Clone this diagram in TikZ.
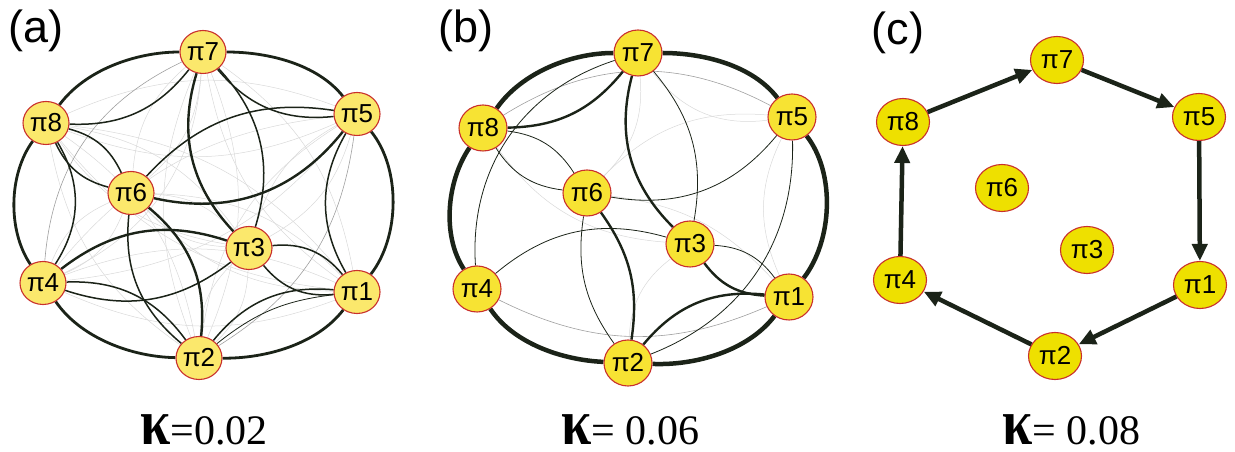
\documentclass[tikz,border=0pt]{standalone}
\usepackage{fontspec}
\setmainfont{Liberation Serif}
\newfontfamily\labelfont{Liberation Sans}
\usetikzlibrary{shapes.geometric,arrows.meta,backgrounds}

\definecolor{fillA}{HTML}{FBE86C}
\definecolor{fillB}{HTML}{F7E333}
\definecolor{fillC}{HTML}{EEE000}
\definecolor{rimred}{HTML}{C9302C}
\definecolor{linkdark}{HTML}{1B2318}

\newcommand{\kap}{{\bfseries\scalebox{1.3}[1.55]{κ}}}

\begin{document}
\begin{tikzpicture}[
  x=1pt, y=1pt,
  state/.style={ellipse, draw=rimred, line width=1.1pt, inner sep=0pt, font=\labelfont\fontsize{26}{26}\selectfont},
  stateA/.style={state, fill=fillA, minimum width=46pt, minimum height=43pt},
  stateB/.style={state, fill=fillB, minimum width=48pt, minimum height=46pt},
  stateC/.style={state, fill=fillC, minimum width=53pt, minimum height=47pt},
  panel/.style={font=\labelfont\fontsize{45}{45}\selectfont, inner sep=0pt},
  coupling/.style={font=\fontsize{42}{42}\selectfont, inner sep=0pt, anchor=base},
  rim/.style={draw=linkdark, line width=#1, looseness=0.85},
  wT/.style={draw=linkdark, line width=2.4pt},
  wM/.style={draw=linkdark, line width=1.5pt},
  wS/.style={draw=linkdark, line width=0.8pt},
  wG/.style={draw=gray!75, line width=0.6pt},
  wL/.style={draw=gray!30, line width=0.5pt},
  flow/.style={draw=linkdark, line width=4.5pt, -{Triangle[length=17pt,width=15pt]}},
]
  \useasboundingbox (0,0) rectangle (1235,452);

  % Panel (a)
  \node[panel] (lbla) at (36,421) {(a)};
  \node[stateA] (a7) at (203,400) {π7};
  \node[stateA] (a5) at (357,338) {π5};
  \node[stateA] (a8) at (46,329) {π8};
  \node[stateA] (a6) at (131,259) {π6};
  \node[stateA] (a3) at (249,204) {π3};
  \node[stateA] (a4) at (43,169) {π4};
  \node[stateA] (a1) at (357,160) {π1};
  \node[stateA] (a2) at (199,94) {π2};
  \node[coupling] (ka) at (204,7) {\kap=0.02};

  \begin{scope}[on background layer]
    \foreach \i/\j in {1/4,1/6,1/7,1/8,2/3,2/7,2/8,3/5,3/6,3/8,4/5,4/6,5/8,6/7}
      {\draw[wL] (a\i) to[bend left=22] (a\j);
       \draw[wL] (a\i) to[bend right=22] (a\j);}
    \foreach \i/\j/\b in {2/5/25,7/4/30}
      \draw[wL] (a\i) to[bend left=\b] (a\j);
    \foreach \i/\j/\b in {2/5/-25,7/4/-30}
      \draw[wG] (a\i) to[bend left=\b] (a\j);
    \foreach \i/\j/\b in {1/2/-16}
      \draw[wS] (a\i) to[bend left=\b] (a\j);
    \foreach \i/\j/\b in {7/5/-28,5/1/-30,1/2/-28,2/4/-28,4/8/-32,8/7/-27,7/3/30,6/5/28,8/6/25,8/6/-25,6/2/-28,4/3/-28,3/1/28,3/1/-28}
      \draw[wM] (a\i) to[bend left=\b] (a\j);
    \foreach \i/\j/\b in {7/3/-30,6/5/-32,6/2/28,4/3/28}
      \draw[wT] (a\i) to[bend left=\b] (a\j);
    % outer ring, tangent to the ellipse at each state
    \foreach \i/\j/\o/\n in {7/5/0/128.8,5/1/-51.2/52.2,1/2/-127.8/-0.8,2/4/179.2/-55.9,4/8/124.1/-126.2,8/7/53.8/180}
      \draw[rim=2.8pt] (a\i) to[out=\o, in=\n] (a\j);
  \end{scope}

  % Panel (b)
  \node[panel] (lblb) at (466,421) {(b)};
  \node[stateB] (b7) at (638,399) {π7};
  \node[stateB] (b5) at (792,335) {π5};
  \node[stateB] (b8) at (483,324) {π8};
  \node[stateB] (b6) at (587,259) {π6};
  \node[stateB] (b3) at (690,208) {π3};
  \node[stateB] (b4) at (477,163) {π4};
  \node[stateB] (b1) at (789,155) {π1};
  \node[stateB] (b2) at (628,89) {π2};
  \node[coupling] (kb) at (630,7) {\kap= 0.06};

  \begin{scope}[on background layer]
    \foreach \i/\j/\b in {8/3/-25,6/7/-25,6/5/25,7/5/-30,5/1/-25,3/2/-25,6/1/20}
      \draw[wL] (b\i) to[bend left=\b] (b\j);
    \foreach \i/\j/\b in {8/5/30,4/1/-25}
      \draw[wG] (b\i) to[bend left=\b] (b\j);
    \foreach \i/\j/\b in {7/4/-38,8/6/25,8/6/-25,6/5/-30,7/3/25,5/2/35,6/2/-22,4/3/28,3/1/25}
      \draw[wS] (b\i) to[bend left=\b] (b\j);
    \foreach \i/\j/\b in {8/7/-25,7/3/-30,6/2/22,3/1/-25,1/2/-28}
      \draw[wT] (b\i) to[bend left=\b] (b\j);
    \foreach \i/\j/\o/\n in {7/5/0/127.6,5/1/-52.4/52.5,1/2/-127.5/-2.3,2/4/177.7/-56.3,4/8/123.7/-124.6,8/7/55.4/180}
      \draw[rim=4.5pt] (b\i) to[out=\o, in=\n] (b\j);
  \end{scope}

  % Panel (c)
  \node[panel] (lblc) at (898,419) {(c)};
  \node[stateC] (c7) at (1057,392) {π7};
  \node[stateC] (c5) at (1199,335) {π5};
  \node[stateC] (c8) at (903,330) {π8};
  \node[stateC] (c6) at (1002,264) {π6};
  \node[stateC] (c3) at (1087,202) {π3};
  \node[stateC] (c4) at (900,172) {π4};
  \node[stateC] (c1) at (1200,167) {π1};
  \node[stateC] (c2) at (1055,96) {π2};
  \node[coupling] (kc) at (1071,7) {\kap= 0.08};

  \draw[flow] (c8) -- (c7);
  \draw[flow] (c7) -- (c5);
  \draw[flow] (c5) -- (c1);
  \draw[flow] (c1) -- (c2);
  \draw[flow] (c2) -- (c4);
  \draw[flow] (c4) -- (c8);
\end{tikzpicture}
\end{document}
